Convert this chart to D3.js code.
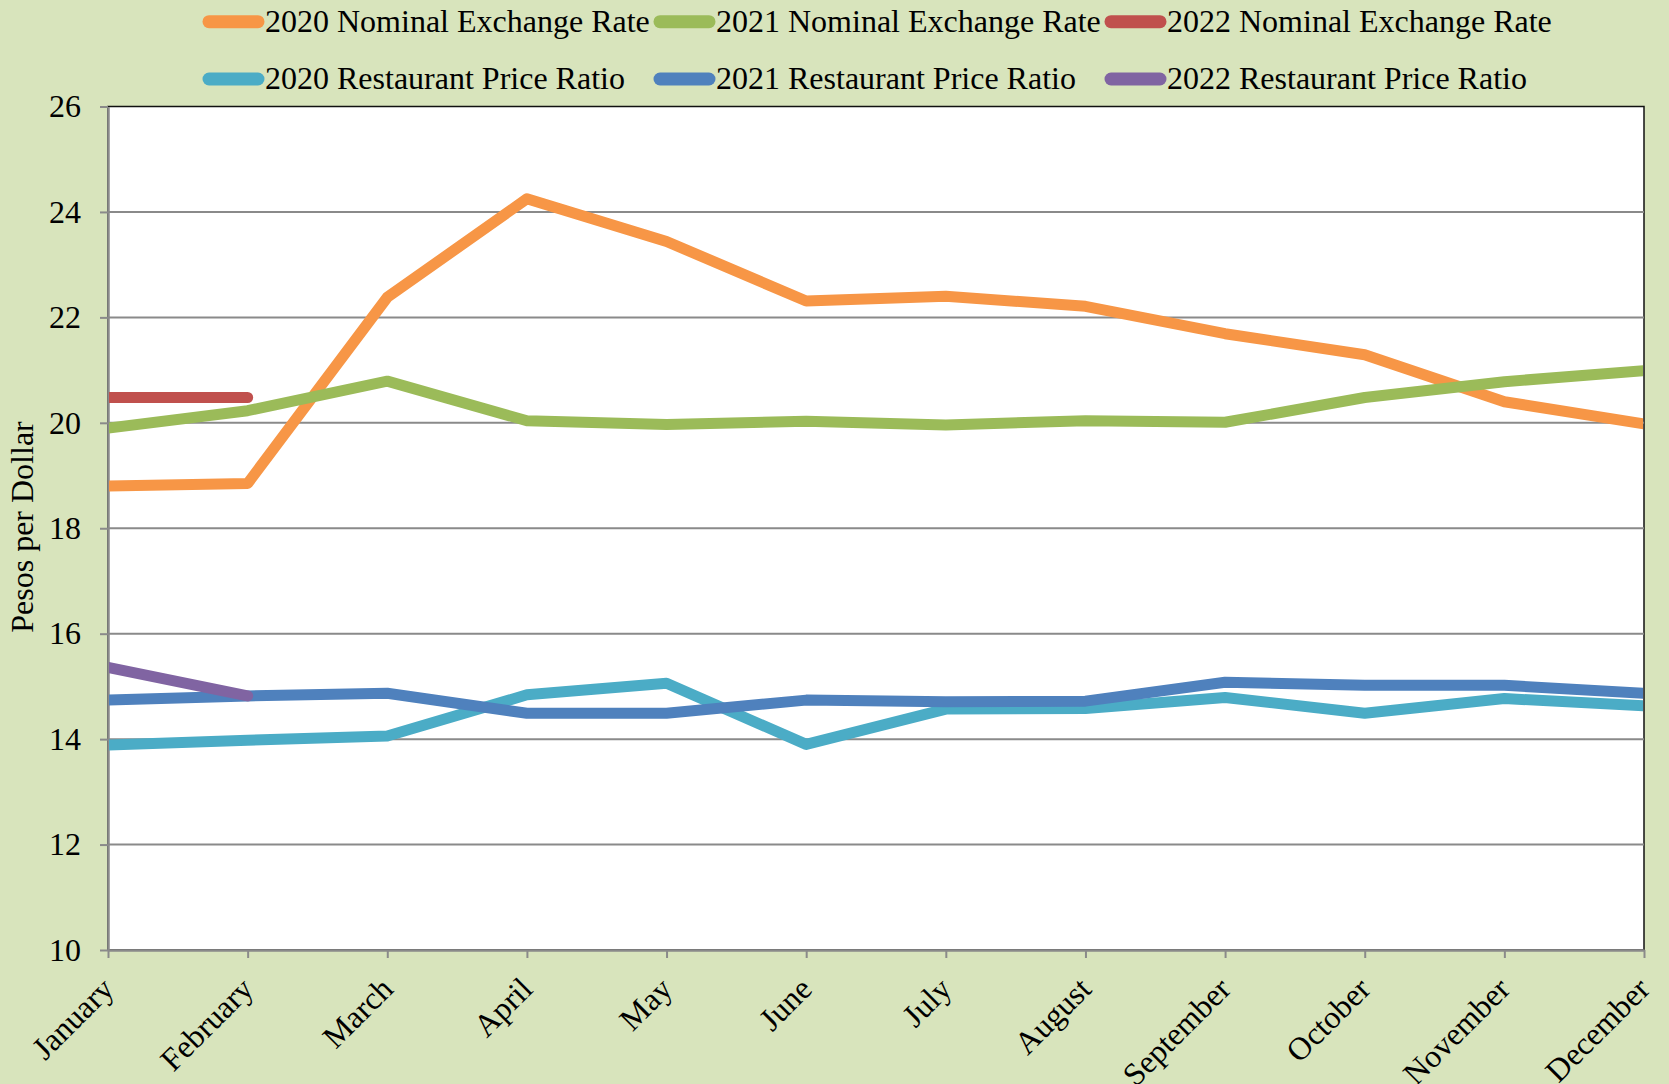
<!DOCTYPE html>
<html>
<head>
<meta charset="utf-8">
<script src="https://cdn.jsdelivr.net/npm/d3@7"></script>
<style>
  body { margin: 0; padding: 0; background: #D8E4BC; }
  svg { display: block; }
  text { font-family: "Times New Roman", "Liberation Serif", serif; fill: #000; }
</style>
</head>
<body>
<svg width="1669" height="1084"></svg>
<script>
// months on the x axis
var months = ["January", "February", "March", "April", "May", "June",
  "July", "August", "September", "October", "November", "December"];

// values (pesos per dollar)
var ner2020 = [18.80, 18.85, 22.38, 24.25, 23.44, 22.31, 22.40, 22.21, 21.69, 21.29, 20.40, 19.98];
var ner2021 = [19.90, 20.23, 20.79, 20.04, 19.97, 20.03, 19.96, 20.04, 20.01, 20.48, 20.78, 20.99];
var ner2022 = [20.48, 20.48];
var rpr2020 = [13.89, 13.98, 14.06, 14.84, 15.06, 13.90, 14.57, 14.58, 14.79, 14.49, 14.77, 14.63];
var rpr2021 = [14.74, 14.82, 14.87, 14.49, 14.49, 14.74, 14.71, 14.72, 15.08, 15.02, 15.02, 14.87];
var rpr2022 = [15.36, 14.82];

var yTicks = [10, 12, 14, 16, 18, 20, 22, 24, 26];

var seriesNames = ["2020 Nominal Exchange Rate", "2021 Nominal Exchange Rate", "2022 Nominal Exchange Rate",
  "2020 Restaurant Price Ratio", "2021 Restaurant Price Ratio", "2022 Restaurant Price Ratio"];
var seriesValues = [ner2020, ner2021, ner2022, rpr2020, rpr2021, rpr2022];
var colors = ["#F79646", "#9BBB59", "#C0504D", "#4BACC6", "#4F81BD", "#8064A2"];

var series = seriesNames.map(function(name, i) {
  return { name: name, color: colors[i],
    values: seriesValues[i].map(function(v, j) { return { month: months[j], value: v }; }) };
});

var svg = d3.select("svg");
svg.append("rect").attr("width", 1669).attr("height", 1084).attr("fill", "#D8E4BC");

var plot = { left: 108, right: 1644, top: 106.5, bottom: 950 };

var x = d3.scalePoint().domain(months).range([plot.left, plot.right]);
var y = d3.scaleLinear().domain([10, 26]).range([plot.bottom, plot.top]);

// plot area
svg.append("rect")
    .attr("x", plot.left).attr("y", plot.top)
    .attr("width", plot.right - plot.left).attr("height", plot.bottom - plot.top)
    .attr("fill", "#fff").attr("stroke", "#111").attr("stroke-width", 1.5);

// gridlines
svg.append("g")
  .selectAll("line")
  .data(yTicks.filter(function(d) { return d > 10 && d < 26; }))
  .enter().append("line")
    .attr("x1", plot.left).attr("x2", plot.right)
    .attr("y1", function(d) { return y(d); }).attr("y2", function(d) { return y(d); })
    .attr("stroke", "#8a8a8a").attr("stroke-width", 2);

// y axis
var yAxis = svg.append("g")
    .attr("transform", "translate(" + plot.left + ",0)")
    .call(d3.axisLeft(y).tickValues(yTicks).tickSize(8).tickPadding(19).tickSizeOuter(0));
yAxis.select(".domain").attr("stroke", "#8a8a8a").attr("stroke-width", 2.5);
yAxis.selectAll(".tick line").attr("stroke", "#8a8a8a").attr("stroke-width", 2);
yAxis.selectAll(".tick text")
    .attr("font-size", 32)
    .attr("font-family", "'Times New Roman', 'Liberation Serif', serif")
    .attr("fill", "#000");

// x axis
var xAxis = svg.append("g")
    .attr("transform", "translate(0," + plot.bottom + ")")
    .call(d3.axisBottom(x).tickSize(8).tickSizeOuter(0));
xAxis.select(".domain").attr("stroke", "#8a8a8a").attr("stroke-width", 2.5);
xAxis.selectAll(".tick line").attr("stroke", "#8a8a8a").attr("stroke-width", 2);
xAxis.selectAll(".tick text")
    .attr("font-size", 32)
    .attr("font-family", "'Times New Roman', 'Liberation Serif', serif")
    .attr("fill", "#000")
    .attr("text-anchor", "end")
    .attr("x", 0).attr("y", 0).attr("dy", 0)
    .attr("transform", "translate(7,41) rotate(-45)");

// lines clipped to the plot area
svg.append("clipPath").attr("id", "clip")
  .append("rect")
    .attr("x", plot.left + 1).attr("y", plot.top)
    .attr("width", plot.right - plot.left - 2).attr("height", plot.bottom - plot.top);

var line = d3.line()
    .x(function(d) { return x(d.month); })
    .y(function(d) { return y(d.value); });

svg.append("g")
    .attr("clip-path", "url(#clip)")
  .selectAll("path")
  .data(series)
  .enter().append("path")
    .attr("d", function(d) { return line(d.values); })
    .attr("fill", "none")
    .attr("stroke", function(d) { return d.color; })
    .attr("stroke-width", 11)
    .attr("stroke-linecap", "round")
    .attr("stroke-linejoin", "round");

// y axis title
svg.append("text")
    .attr("transform", "translate(33,527) rotate(-90)")
    .attr("text-anchor", "middle")
    .attr("font-size", 32)
    .text("Pesos per Dollar");

// legend, two rows of three
var legend = svg.append("g")
  .selectAll("g")
  .data(series)
  .enter().append("g")
    .attr("transform", function(d, i) {
      return "translate(" + (202 + (i % 3) * 451) + "," + (i < 3 ? 21.7 : 79) + ")";
    });

legend.append("line")
    .attr("x1", 7).attr("x2", 56)
    .attr("y1", 0).attr("y2", 0)
    .attr("stroke", function(d) { return d.color; })
    .attr("stroke-width", 13)
    .attr("stroke-linecap", "round");

legend.append("text")
    .attr("x", 63)
    .attr("y", 10.2)
    .attr("font-size", 32)
    .text(function(d) { return d.name; });
</script>
</body>
</html>
